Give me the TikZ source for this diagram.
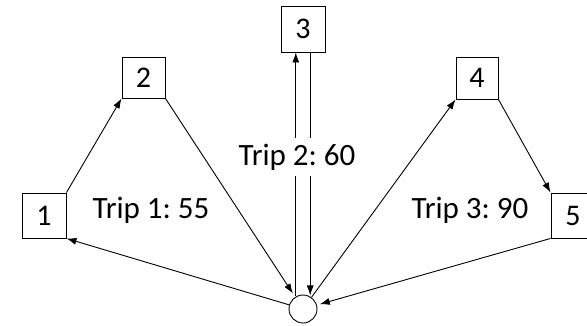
\documentclass[tikz,border=0pt]{standalone}
\usepackage{fontspec}
\setmainfont{Carlito}
\usetikzlibrary{arrows.meta}
\frenchspacing
\begin{document}
\begin{tikzpicture}[x=1pt,y=-1pt,
  box/.style={draw,line width=0.9pt,minimum width=43pt,minimum height=43pt,inner sep=0pt,font=\fontsize{30}{30}\selectfont},
  hub/.style={draw,line width=0.9pt,circle,minimum size=28pt,inner sep=0pt},
  lbl/.style={font=\fontsize{31}{31}\selectfont,inner sep=1pt},
  conn/.style={line width=0.9pt,-{Latex[length=10pt,width=7pt]}},
]
\useasboundingbox (0,0) rectangle (587,325);
\node[box,minimum width=44pt,minimum height=45pt] (b1) at (44,215.5) {1};
\node[box,minimum width=43pt,minimum height=41pt] (b2) at (143.5,77.5) {2};
\node[box,minimum width=44pt,minimum height=46pt] (b3) at (303,29) {3};
\node[box,minimum width=42pt,minimum height=42pt] (b4) at (477,78) {4};
\node[box,minimum width=44pt,minimum height=45pt] (b5) at (573,215.5) {5};
\node[hub] (c) at (303,309) {};
% Trip 1
\draw[conn] (b1.north east) -- (b2.south west);
\draw[conn,shorten >=4pt] (b2.south east) -- (c);
\draw[conn] (c) -- (b1.south east);
% Trip 2
\draw[conn] (c.120) -- (c.120 |- b3.south);
\draw[conn,shorten >=1pt] (c.60 |- b3.south) -- (c.60);
% Trip 3
\draw[conn] (c) -- (b4.south west);
\draw[conn] (b4.south east) -- (b5.north west);
\draw[conn,shorten >=3pt] (b5.south west) -- (c);
% labels
\node[lbl] (t1) at (151,210) {Trip 1: 55};
\node[lbl,fill=white,inner sep=2pt,minimum height=38pt] (t2) at (297,157) {Trip 2: 60};
\node[lbl] (t3) at (470,210) {Trip 3: 90};
\end{tikzpicture}
\end{document}
